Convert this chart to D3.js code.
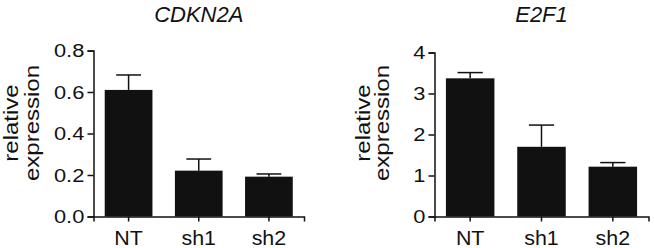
<!DOCTYPE html>
<html>
<head>
<meta charset="utf-8">
<script src="https://cdn.jsdelivr.net/npm/d3@7"></script>
<style>
  html, body { margin: 0; padding: 0; background: #fff; }
  svg { display: block; }
  text { font-family: "Liberation Sans", Arial, sans-serif; fill: #111; }
</style>
</head>
<body>
<svg id="chart" width="654" height="248"></svg>
<script>
// ---- data ----
const categories = ["NT", "sh1", "sh2"];
const titles = ["CDKN2A", "E2F1"];
const cdkn2aMean = [0.61, 0.221, 0.192];
const cdkn2aErr = [0.072, 0.056, 0.013];
const e2f1Mean = [3.37, 1.70, 1.215];
const e2f1Err = [0.14, 0.53, 0.10];
const cdkn2aTicks = [0, 0.2, 0.4, 0.6, 0.8];
const e2f1Ticks = [0, 1, 2, 3, 4];
const yLabelLines = ["relative", "expression"];

// ---- layout ----
const svg = d3.select("#chart");
const panels = [
  { title: titles[0], mean: cdkn2aMean, err: cdkn2aErr, ticks: cdkn2aTicks, fmt: d3.format(".1f"),
    x0: 93.5, x1: 304, yTop: 50.5, yBot: 216.5, labelX: [-75.5, -54.5] },
  { title: titles[1], mean: e2f1Mean, err: e2f1Err, ticks: e2f1Ticks, fmt: d3.format("d"),
    x0: 434.5, x1: 648.5, yTop: 52.5, yBot: 216.5, labelX: [-65, -46] }
];

panels.forEach(p => {
  const g = svg.append("g");
  const x = d3.scaleBand().domain(categories).range([p.x0, p.x1])
    .paddingInner(0.32).paddingOuter(0.16);
  const y = d3.scaleLinear().domain([p.ticks[0], p.ticks[p.ticks.length - 1]])
    .range([p.yBot, p.yTop]);

  // bars
  g.selectAll("rect.bar").data(categories).join("rect")
    .attr("class", "bar")
    .attr("x", d => x(d))
    .attr("width", x.bandwidth())
    .attr("y", (d, i) => y(p.mean[i]))
    .attr("height", (d, i) => y(0) - y(p.mean[i]))
    .attr("fill", "#111");

  // error bars (upper only)
  const capW = x.bandwidth() * 0.52;
  categories.forEach((c, i) => {
    const cx = x(c) + x.bandwidth() / 2;
    g.append("line")
      .attr("x1", cx).attr("x2", cx)
      .attr("y1", y(p.mean[i])).attr("y2", y(p.mean[i] + p.err[i]))
      .attr("stroke", "#111").attr("stroke-width", 1.5);
    g.append("line")
      .attr("x1", cx - capW / 2).attr("x2", cx + capW / 2)
      .attr("y1", y(p.mean[i] + p.err[i])).attr("y2", y(p.mean[i] + p.err[i]))
      .attr("stroke", "#111").attr("stroke-width", 1.5);
  });

  // y axis
  const yAxis = g.append("g").attr("transform", `translate(${p.x0},0)`)
    .call(d3.axisLeft(y).tickValues(p.ticks).tickFormat(p.fmt).tickSizeOuter(0).tickSize(6).tickPadding(2));
  yAxis.select(".domain").attr("stroke", "#111").attr("stroke-width", 1.5);
  yAxis.selectAll(".tick line").attr("stroke", "#111").attr("stroke-width", 1.5);
  yAxis.selectAll(".tick text")
    .attr("font-size", 19)
    .attr("font-family", "Liberation Sans, Arial, sans-serif")
    .attr("fill", "#111")
    .attr("transform", "scale(1.15,1)");

  // x axis
  const xAxis = g.append("g").attr("transform", `translate(0,${p.yBot})`)
    .call(d3.axisBottom(x).tickSizeOuter(0).tickSize(5).tickPadding(9));
  xAxis.select(".domain").attr("stroke", "#111").attr("stroke-width", 1.5);
  xAxis.selectAll(".tick line").attr("stroke", "#111").attr("stroke-width", 1.5);
  xAxis.selectAll(".tick text")
    .attr("font-size", 20)
    .attr("font-family", "Liberation Sans, Arial, sans-serif")
    .attr("fill", "#111")
    .attr("transform", "scale(1.07,1)");

  // title
  g.append("text")
    .attr("x", (p.x0 + p.x1) / 2)
    .attr("y", 22)
    .attr("text-anchor", "middle")
    .attr("font-size", 22)
    .attr("font-style", "italic")
    .text(p.title);

  // y label (two lines)
  const cy = 123;
  yLabelLines.forEach((t, k) => {
    g.append("text")
      .attr("transform", `translate(${p.x0 + p.labelX[k]},${cy}) rotate(-90) scale(1,0.84)`)
      .attr("text-anchor", "middle")
      .attr("font-size", 24)
      .text(t);
  });
});
</script>
</body>
</html>
